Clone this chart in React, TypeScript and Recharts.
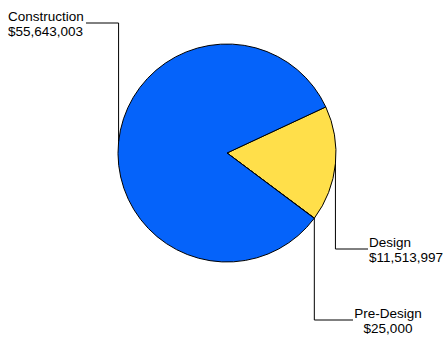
import { PieChart, Pie, Cell } from "recharts";

const phases = ["Design", "Pre-Design", "Construction"];
const amounts = [11513997, 25000, 55643003];
const colors = ["#ffdf4a", "#ffdf4a", "#0563fa"];

const data = phases.map((name, i) => ({ name, value: amounts[i] }));

// where each callout ends up
const callouts: Record<string, { lineY: number; endX: number; textX: number; anchor: "start" | "middle" }> = {
  Construction: { lineY: 23, endX: 86, textX: 8, anchor: "start" },
  Design: { lineY: 249, endX: 368, textX: 369, anchor: "start" },
  "Pre-Design": { lineY: 320, endX: 353, textX: 388, anchor: "middle" },
};

const RAD = Math.PI / 180;

const renderLabel = (props: any) => {
  const { cx, cy, midAngle, outerRadius, name, value } = props;
  const c = callouts[name];
  if (!c) return null;
  const sx = cx + outerRadius * Math.cos(-midAngle * RAD);
  const sy = cy + outerRadius * Math.sin(-midAngle * RAD);
  return (
    <g>
      <polyline
        points={`${sx},${sy} ${sx},${c.lineY} ${c.endX},${c.lineY}`}
        fill="none"
        stroke="#000"
        strokeWidth={1}
      />
      <text
        x={c.textX}
        y={c.lineY - 2}
        textAnchor={c.anchor}
        fontFamily="'Liberation Sans', Arial, sans-serif"
        fontSize={13.5}
        fill="#000"
      >
        <tspan x={c.textX}>{name}</tspan>
        <tspan x={c.textX} dy={15}>
          {"$" + Number(value).toLocaleString("en-US")}
        </tspan>
      </text>
    </g>
  );
};

export default function App() {
  return (
    <div style={{ position: "absolute", left: 0, top: 0, background: "#fff" }}>
      <PieChart width={446} height={337} margin={{ top: 0, right: 0, bottom: 0, left: 0 }}>
        <Pie
          data={data}
          dataKey="value"
          nameKey="name"
          cx={227}
          cy={153}
          outerRadius={109}
          startAngle={25}
          endAngle={-335}
          stroke="#000"
          strokeWidth={1}
          labelLine={false}
          label={renderLabel}
          isAnimationActive={false}
        >
          {data.map((d, i) => (
            <Cell key={d.name} fill={colors[i]} />
          ))}
        </Pie>
      </PieChart>
    </div>
  );
}
